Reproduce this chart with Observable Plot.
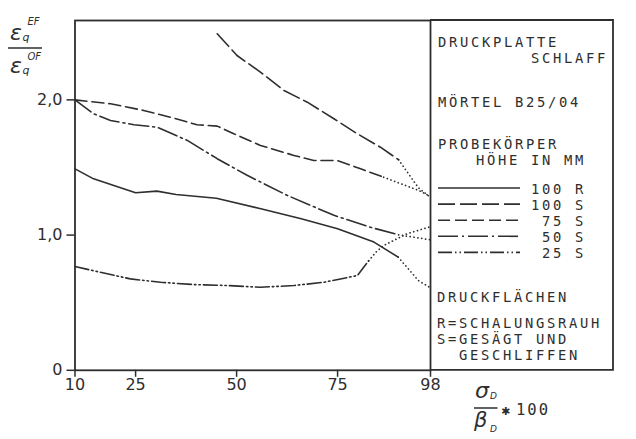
<!DOCTYPE html>
<html><head><meta charset="utf-8">
<script src="https://cdn.jsdelivr.net/npm/d3@7"></script>
<script src="https://cdn.jsdelivr.net/npm/@observablehq/plot@0.6"></script>
<style>html,body{margin:0;padding:0;background:#fff;overflow:hidden}</style>
</head><body><div id="chart"></div>
<script>
// ---- data ----
const xTicks = [10, 25, 50, 75, 98];
const yTicks = [0, 1, 2];
const yTickLabels = ["0", "1,0", "2,0"];

const legendLabels = ["100 R", "100 S", "75 S", "50 S", "25 S"];

const r100X = [10, 14.6, 25, 30.3, 35, 45, 56, 66, 75, 84, 86, 90];
const r100Y = [1.49, 1.416, 1.313, 1.325, 1.30, 1.273, 1.195, 1.121, 1.047, 0.948, 0.911, 0.837];
const r100ExtX = [90, 95, 98];
const r100ExtY = [0.837, 0.664, 0.61];

const s100X = [45.2, 50.1, 55.9, 61.7, 67.5, 74.1, 79.9, 85.6, 90.1];
const s100Y = [2.489, 2.328, 2.205, 2.070, 1.983, 1.860, 1.749, 1.650, 1.557];
const s100ExtX = [90.1, 95, 98];
const s100ExtY = [1.557, 1.35, 1.278];

const s75X = [10, 18.8, 27.0, 33.6, 40.2, 45.2, 49.3, 55.9, 64.2, 69.1, 74.9, 80.7, 86.4];
const s75Y = [2.0, 1.971, 1.922, 1.872, 1.816, 1.806, 1.750, 1.663, 1.589, 1.552, 1.552, 1.490, 1.428];
const s75ExtX = [86.4, 95.1, 98];
const s75ExtY = [1.428, 1.33, 1.286];

const s50X = [10, 14.6, 18.8, 24.6, 30.3, 37.8, 45.2, 52.6, 62.5, 74.1, 83.1, 90.1];
const s50Y = [2.0, 1.897, 1.848, 1.816, 1.798, 1.700, 1.565, 1.442, 1.294, 1.146, 1.058, 1.002];
const s50ExtX = [90.1, 98];
const s50ExtY = [1.002, 0.965];

const s25X = [10, 16.3, 23.7, 31.2, 39.4, 47.7, 55.9, 64.2, 71.6, 79.9, 82.7];
const s25Y = [0.767, 0.725, 0.676, 0.651, 0.634, 0.627, 0.614, 0.627, 0.651, 0.701, 0.81];
const s25ExtX = [82.7, 84.5, 86.4, 92.2, 98];
const s25ExtY = [0.81, 0.874, 0.923, 1.01, 1.062];

const notesTop = ["DRUCKPLATTE", "SCHLAFF", "MÖRTEL B25/04", "PROBEKÖRPER", "HÖHE IN MM"];
const notesBottom = ["DRUCKFLÄCHEN", "R=SCHALUNGSRAUH", "S=GESÄGT UND", "GESCHLIFFEN"];

// ---- layout / style ----
const W = 636, H = 439;
const mL = 74.5, mT = 20, mB = 69.2, xRight = 430, boxRight = 613;
const ink = "#2e2e2e";
const dotted = "0.1,3.8";
const pts = (xs, ys) => xs.map((x, i) => ({x, y: ys[i]}));

const series = [
  {main: pts(r100X, r100Y), ext: pts(r100ExtX, r100ExtY), dash: null},
  {main: pts(s100X, s100Y), ext: pts(s100ExtX, s100ExtY), dash: "17,5"},
  {main: pts(s75X, s75Y), ext: pts(s75ExtX, s75ExtY), dash: "12,5"},
  {main: pts(s50X, s50Y), ext: pts(s50ExtX, s50ExtY), dash: "20,4,2,4"},
  {main: pts(s25X, s25Y), ext: pts(s25ExtX, s25ExtY), dash: "14,3,1.5,3,1.5,3"}
];

const marks = [Plot.frame({stroke: ink, strokeWidth: 1.8})];
series.forEach(s => {
  const o = {x: "x", y: "y", stroke: ink, strokeWidth: 1.6};
  if (s.dash) o.strokeDasharray = s.dash;
  marks.push(Plot.line(s.main, o));
  marks.push(Plot.line(s.ext, {x: "x", y: "y", stroke: ink, strokeWidth: 1.7,
    strokeDasharray: dotted, strokeLinecap: "round"}));
});
marks.push(Plot.axisX({ticks: xTicks, tickSize: 7, tickPadding: 1.5, fontSize: 16,
  label: null, color: ink, strokeWidth: 1.5, tickFormat: d => String(d)}));
marks.push(Plot.axisY({ticks: yTicks, tickSize: 8, tickPadding: 4.5, fontSize: 16,
  label: null, color: ink, strokeWidth: 1.5, tickFormat: d => yTickLabels[yTicks.indexOf(d)]}));

const chart = Plot.plot({
  width: W, height: H,
  marginLeft: mL, marginRight: W - xRight, marginTop: mT, marginBottom: mB,
  x: {domain: [10, 98]},
  y: {domain: [0, 2.587]},
  style: {fontFamily: "DejaVu Sans", fontSize: "16px", color: ink, background: "white", overflow: "visible"},
  marks
});
document.getElementById("chart").appendChild(chart);

// ---- overlay: notes box, legend, axis titles ----
const svg = d3.select(chart);
const g = svg.append("g").attr("fill", ink).attr("text-anchor", "start");
const yBottom = H - mB;
g.append("path")
  .attr("d", `M${xRight},${mT}H${boxRight}V${yBottom}H${xRight}`)
  .attr("fill", "none").attr("stroke", ink).attr("stroke-width", 1.8);

const boxFont = 13.8, boxSpacing = 2.7;   // pitch ~11px like the plotter lettering
const mono = (sel, size = boxFont) => sel.attr("font-family", "DejaVu Sans Mono")
  .attr("font-size", size).attr("letter-spacing", boxSpacing).attr("fill", ink);
const tx = xRight + 8;
const put = (x, y, t, anchor = "start") =>
  mono(g.append("text").attr("x", x).attr("y", y).attr("text-anchor", anchor).text(t));

put(tx, 47, notesTop[0]);
put(608, 63, notesTop[1], "end");
put(tx, 107, notesTop[2]);
put(tx, 149, notesTop[3]);
put(586, 165, notesTop[4], "end");

legendLabels.forEach((lab, i) => {
  const base = 194 + i * 16.1;
  put(586, base, lab, "end");
  const ln = g.append("line").attr("x1", tx).attr("x2", 520)
    .attr("y1", base - 6).attr("y2", base - 6)
    .attr("stroke", ink).attr("stroke-width", 1.6);
  if (series[i].dash) ln.attr("stroke-dasharray", series[i].dash);
});

put(tx - 1, 302, notesBottom[0]);
put(tx - 1, 327.5, notesBottom[1]);
put(tx - 1, 343.5, notesBottom[2]);
put(tx + 21, 359.5, notesBottom[3]);

// italic symbol texts with sub/superscripts in a single text element
function sym(parts) {
  const t = g.append("text").attr("text-anchor", "start").attr("font-family", "DejaVu Sans")
    .attr("font-style", "italic").attr("fill", ink);
  parts.forEach(([x, y, s, str]) => t.append("tspan").attr("x", x).attr("y", y).attr("font-size", s).text(str));
  return t;
}
// y-axis title: eps_q^EF / eps_q^OF
sym([[10, 40, 22, "ε"], [22.5, 41, 11, "q"], [27.5, 25, 10, "EF"]]);
g.append("line").attr("x1", 8).attr("x2", 42).attr("y1", 48).attr("y2", 48).attr("stroke", ink).attr("stroke-width", 1.5);
sym([[10, 73, 22, "ε"], [22.5, 74, 11, "q"], [27.5, 60, 10, "OF"]]);

// x-axis title: sigma_D / beta_D * 100
sym([[475, 398, 22, "σ"], [490, 398.5, 9, "D"]]);
g.append("line").attr("x1", 474).attr("x2", 497.5).attr("y1", 408).attr("y2", 408).attr("stroke", ink).attr("stroke-width", 1.5);
sym([[474, 426.5, 21, "β"], [490, 431.5, 9, "D"]]);
const mult = g.append("text").attr("text-anchor", "start").attr("fill", ink);
mult.append("tspan").attr("x", 501).attr("y", 414.5).attr("font-family", "DejaVu Sans").attr("font-size", 11).text("✱");
mono(mult.append("tspan").attr("x", 516).attr("y", 415).text("100"), 15.5).attr("letter-spacing", 2);
</script>
</body></html>
